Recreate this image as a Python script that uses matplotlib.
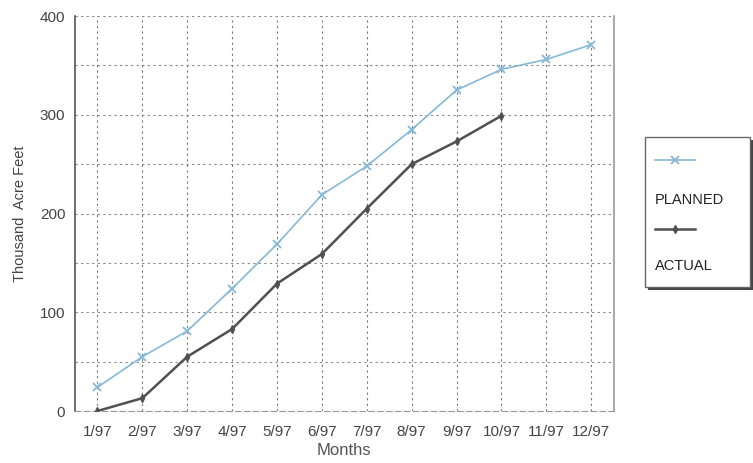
import matplotlib
matplotlib.use("Agg")
import matplotlib.pyplot as plt
from matplotlib.lines import Line2D
from matplotlib.patches import Rectangle

months = ["1/97", "2/97", "3/97", "4/97", "5/97", "6/97", "7/97", "8/97", "9/97", "10/97", "11/97", "12/97"]
planned = [24, 55, 81, 124, 169, 219, 248, 285, 325, 346, 356, 371]
actual = [0, 13, 55, 83, 129, 159, 205, 250, 273, 299]
yticks = [0, 100, 200, 300, 400]

plt.rcParams['font.family'] = ['Liberation Sans', 'DejaVu Sans']

fig = plt.figure(figsize=(7.53, 4.63), dpi=100)
ax = fig.add_axes([0.0996, 0.1123, 0.7154, 0.8531])

x_pl = list(range(1, len(planned) + 1))
x_ac = list(range(1, len(actual) + 1))

pcol = '#86b8d8'
acol = '#505050'
ax.plot(x_pl, planned, color=pcol, lw=1.2, marker='x', ms=6, mew=1.3, zorder=3)
ax.plot(x_ac, actual, color=acol, lw=1.8, marker='d', ms=4, zorder=4)

ax.set_xlim(0.5, 12.5)
ax.set_ylim(0, 400)
ax.set_xticks(x_pl)
ax.set_xticklabels(months, fontsize=11, color='#444444')
ax.set_yticks(yticks)
ax.set_yticklabels([str(v) for v in yticks], fontsize=11, color='#444444')
ax.set_yticks(range(0, 401, 50), minor=True)
ax.tick_params(axis='both', which='both', length=0)
ax.tick_params(axis='x', pad=10)
ax.tick_params(axis='y', pad=7)
ax.grid(True, which='both', axis='y', linestyle=(0, (2, 3)), color='#888888', lw=0.8)
ax.grid(True, which='major', axis='x', linestyle=(0, (2, 3)), color='#777777', lw=0.8)

ax.spines['left'].set_color('#555555')
ax.spines['left'].set_linewidth(1.2)
ax.spines['right'].set_color('#999999')
ax.spines['right'].set_linewidth(1.2)
ax.spines['top'].set_visible(False)
ax.spines['bottom'].set_color('#999999')
ax.spines['bottom'].set_linestyle((0, (5, 3)))

ax.set_xlabel('Months', fontsize=12, color='#555555', labelpad=3)
ax.set_ylabel('Thousand  Acre Feet', fontsize=10.5, color='#444444', labelpad=9)

# Legend box
x0, y0, w, h = 645 / 753, 1 - 287 / 463, 105 / 753, 150 / 463
fig.patches.append(Rectangle((x0 + 0.004, y0 - 0.006), w, h, transform=fig.transFigure,
                             facecolor='#444444', edgecolor='none', zorder=1))
fig.patches.append(Rectangle((x0, y0), w, h, transform=fig.transFigure,
                             facecolor='white', edgecolor='#666666', lw=1.0, zorder=2))
lx0, lx1 = 655 / 753, 695 / 753
fig.lines.append(Line2D([lx0, lx1], [1 - 160 / 463] * 2, transform=fig.transFigure,
                        color=pcol, lw=1.2, zorder=3))
fig.lines.append(Line2D([(lx0 + lx1) / 2], [1 - 160 / 463], transform=fig.transFigure,
                        color=pcol, marker='x', ms=6, mew=1.3, zorder=3))
fig.text(655 / 753, 1 - 200 / 463, 'PLANNED', fontsize=10.5, color='#222222', va='center', ha='left', zorder=3)
fig.lines.append(Line2D([lx0, lx1], [1 - 229 / 463] * 2, transform=fig.transFigure,
                        color=acol, lw=1.8, zorder=3))
fig.lines.append(Line2D([(lx0 + lx1) / 2], [1 - 229 / 463], transform=fig.transFigure,
                        color=acol, marker='d', ms=4, zorder=3))
fig.text(655 / 753, 1 - 266 / 463, 'ACTUAL', fontsize=10.5, color='#222222', va='center', ha='left', zorder=3)

fig.savefig('out.png', dpi=100)
